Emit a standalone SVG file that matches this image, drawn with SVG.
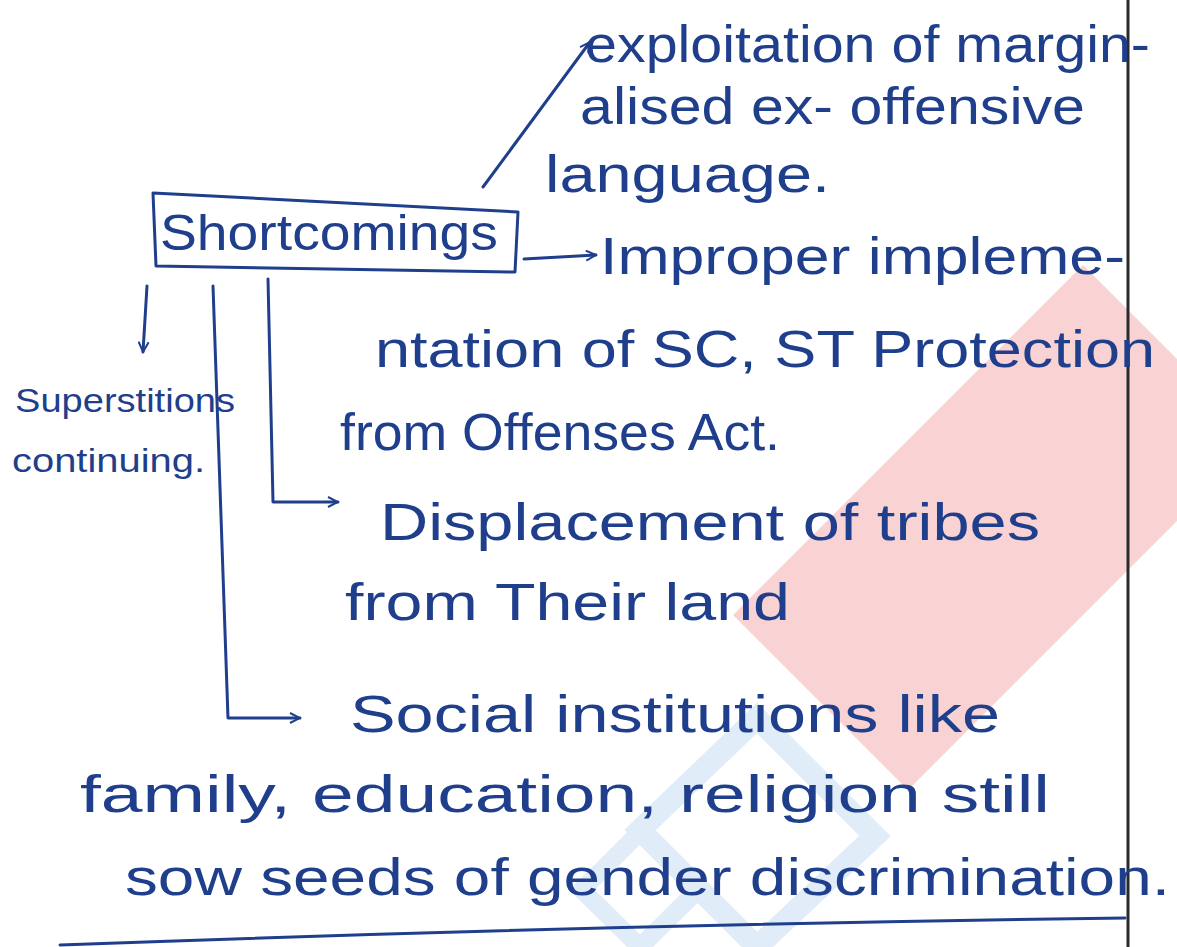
<svg xmlns="http://www.w3.org/2000/svg" width="1177" height="947" viewBox="0 0 1177 947">
<defs>
<style>
.t{font-family:"Liberation Sans","DejaVu Sans",sans-serif;fill:#1f3f8c;font-size:52px}
.s{font-size:34px}
.b{font-size:50px}
.c{fill:none;stroke:#1f3f8c;stroke-width:3;stroke-linecap:round;stroke-linejoin:round}
</style>
<marker id="ah" viewBox="0 0 12 12" refX="11" refY="6" markerWidth="12" markerHeight="12" markerUnits="userSpaceOnUse" orient="auto">
<path d="M1,1 L11,6 L1,11" fill="none" stroke="#1f3f8c" stroke-width="2"/>
</marker>
</defs>
<rect width="1177" height="947" fill="#ffffff"/>
<g id="watermark">
<polygon points="733,615 1083,265 1177,359 1177,521 908,790" fill="#f9d3d3"/>
<polygon points="757,718 875,836 757,947 640,830" fill="none" stroke="#e0edf8" stroke-width="22"/>
<polygon points="640,832 698,890 640,947 582,890" fill="none" stroke="#e0edf8" stroke-width="18"/>
</g>
<line x1="1128" y1="0" x2="1128" y2="947" stroke="#2a2a2a" stroke-width="3"/>
<g id="connectors">
<path class="c" d="M483,187 L590,42" marker-end="url(#ah)"/>
<path class="c" d="M524,259 L596,255" marker-end="url(#ah)"/>
<path class="c" d="M147,286 L143,352" marker-end="url(#ah)"/>
<path class="c" d="M268,279 L273,502 L338,502" marker-end="url(#ah)"/>
<path class="c" d="M213,286 L228,718 L300,718" marker-end="url(#ah)"/>
<path class="c" d="M60,945 Q600,925 1125,918" stroke-width="2.5"/>
</g>
<g id="shortcomings">
<path class="c" d="M153,193 L518,212 L515,272 L156,266 Z"/>
<text class="t b" x="160" y="250" textLength="338" lengthAdjust="spacingAndGlyphs">Shortcomings</text>
</g>
<g id="exploitation">
<text class="t" x="585" y="62" textLength="565" lengthAdjust="spacingAndGlyphs">exploitation of margin-</text>
<text class="t" x="580" y="124" textLength="505" lengthAdjust="spacingAndGlyphs">alised ex- offensive</text>
<text class="t" x="545" y="192" textLength="285" lengthAdjust="spacingAndGlyphs">language.</text>
</g>
<g id="improper">
<text class="t" x="600" y="274" textLength="525" lengthAdjust="spacingAndGlyphs">Improper impleme-</text>
<text class="t" x="375" y="367" textLength="780" lengthAdjust="spacingAndGlyphs">ntation of SC, ST Protection</text>
<text class="t" x="340" y="450" textLength="440" lengthAdjust="spacingAndGlyphs">from Offenses Act.</text>
</g>
<g id="displacement">
<text class="t" x="380" y="540" textLength="660" lengthAdjust="spacingAndGlyphs">Displacement of tribes</text>
<text class="t" x="345" y="620" textLength="445" lengthAdjust="spacingAndGlyphs">from Their land</text>
</g>
<g id="social">
<text class="t" x="350" y="732" textLength="650" lengthAdjust="spacingAndGlyphs">Social institutions like</text>
<text class="t" x="80" y="812" textLength="970" lengthAdjust="spacingAndGlyphs">family, education, religion still</text>
<text class="t" x="125" y="895" textLength="1045" lengthAdjust="spacingAndGlyphs">sow seeds of gender discrimination.</text>
</g>
<g id="superstitions">
<text class="t s" x="15" y="412" textLength="220" lengthAdjust="spacingAndGlyphs">Superstitions</text>
<text class="t s" x="12" y="472" textLength="193" lengthAdjust="spacingAndGlyphs">continuing.</text>
</g>
</svg>
